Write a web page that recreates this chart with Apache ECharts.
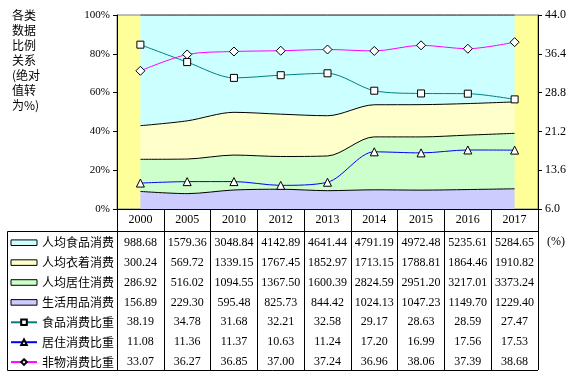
<!DOCTYPE html>
<html>
<head>
<meta charset="utf-8">
<script src="https://cdn.jsdelivr.net/npm/echarts@6/dist/echarts.min.js"></script>
<style>
  html, body { margin: 0; padding: 0; background: #fff; }
  #chart { width: 576px; height: 376px; }
</style>
</head>
<body>
<div id="chart"></div>
<script>
var years = ['2000', '2005', '2010', '2012', '2013', '2014', '2015', '2016', '2017'];
var food = [988.68, 1579.36, 3048.84, 4142.89, 4641.44, 4791.19, 4972.48, 5235.61, 5284.65];
var clothing = [300.24, 569.72, 1339.15, 1767.45, 1852.97, 1713.15, 1788.81, 1864.46, 1910.82];
var housing = [286.92, 516.02, 1094.55, 1367.50, 1600.39, 2824.59, 2951.20, 3217.01, 3373.24];
var goods = [156.89, 229.30, 595.48, 825.73, 844.42, 1024.13, 1047.23, 1149.70, 1229.40];
var foodShare = [38.19, 34.78, 31.68, 32.21, 32.58, 29.17, 28.63, 28.59, 27.47];
var housingShare = [11.08, 11.36, 11.37, 10.63, 11.24, 17.20, 16.99, 17.56, 17.53];
var nonMaterialShare = [33.07, 36.27, 36.85, 37.00, 37.24, 36.96, 38.06, 37.39, 38.68];

var serif = 'Liberation Serif';
var cjk = 'Noto Sans CJK SC';

// absolute values -> share of the total, for the 100% stacked areas
var totals = years.map(function (y, i) {
  return food[i] + clothing[i] + housing[i] + goods[i];
});
function pct(arr) {
  return arr.map(function (v, i) { return v / totals[i] * 100; });
}

// data table rows, each one a hidden category axis under the grid
var tableRows = [food, clothing, housing, goods, foodShare, housingShare, nonMaterialShare];
var tableAxes = tableRows.map(function (vals, k) {
  return {
    type: 'category',
    data: years,
    position: 'bottom',
    offset: 33.7 + 19.9 * k,
    axisLine: { show: false },
    axisTick: { show: false },
    axisLabel: {
      interval: 0, margin: 0, verticalAlign: 'middle',
      fontFamily: serif, fontSize: 12, color: '#000',
      formatter: function (v, i) { return vals[i].toFixed(2); }
    }
  };
});

var rectIcon = 'path://M0,0L28,0L28,6L0,6Z';

function areaSeries(name, data, color) {
  return {
    name: name,
    type: 'line',
    stack: 'share',
    data: pct(data),
    smooth: 0.3,
    symbol: 'none',
    color: color,
    lineStyle: { color: '#000', width: 1 },
    areaStyle: { color: color, opacity: 1 }
  };
}
function shareSeries(name, data, color, symbol, size) {
  return {
    name: name,
    type: 'line',
    yAxisIndex: 1,
    data: data,
    smooth: 0.3,
    symbol: symbol,
    symbolSize: size,
    showAllSymbol: true,
    color: color,
    lineStyle: { color: color, width: 1 },
    itemStyle: { color: '#fff', borderColor: '#000', borderWidth: 1 }
  };
}

var chart = echarts.init(document.getElementById('chart'));
var option = {
  animation: false,
  title: {
    text: '各类\n数据\n比例\n关系\n(绝对\n值转\n为%)',
    left: 12, top: 8, padding: 0,
    textStyle: { fontFamily: cjk, fontSize: 12, fontWeight: 'normal', lineHeight: 15, color: '#000' }
  },
  legend: {
    orient: 'vertical', left: 10, top: 236.7, padding: 0,
    itemWidth: 26, itemHeight: 7, itemGap: 7.9,
    selectedMode: false,
    textStyle: { fontFamily: cjk, fontSize: 12, lineHeight: 12, color: '#000' },
    data: [
      { name: '人均食品消费', icon: rectIcon, itemStyle: { borderColor: '#000', borderWidth: 1 } },
      { name: '人均衣着消费', icon: rectIcon, itemStyle: { borderColor: '#000', borderWidth: 1 } },
      { name: '人均居住消费', icon: rectIcon, itemStyle: { borderColor: '#000', borderWidth: 1 } },
      { name: '生活用品消费', icon: rectIcon, itemStyle: { borderColor: '#000', borderWidth: 1 } },
      '食品消费比重', '居住消费比重', '非物消费比重'
    ]
  },
  grid: {
    left: 117, right: 38, top: 15, bottom: 167,
    show: true, backgroundColor: '#FFFF99', borderColor: '#808080', borderWidth: 1
  },
  xAxis: [{
    type: 'category',
    data: years,
    boundaryGap: true,
    axisLine: { lineStyle: { color: '#000', width: 1 } },
    axisTick: { show: true, interval: 0, alignWithLabel: false, length: 161, lineStyle: { color: '#000' } },
    axisLabel: { interval: 0, margin: 10.5, verticalAlign: 'middle', fontFamily: serif, fontSize: 12, color: '#000' }
  }].concat(tableAxes),
  yAxis: [{
    type: 'value', min: 0, max: 100, interval: 20,
    axisLine: { show: true, lineStyle: { color: '#000' } },
    axisTick: { show: true, length: 4, lineStyle: { color: '#000' } },
    splitLine: { show: false },
    axisLabel: { formatter: '{value}%', margin: 7, fontFamily: serif, fontSize: 11, color: '#000' }
  }, {
    type: 'value', min: 6, max: 44, interval: 7.6, position: 'right',
    axisLine: { show: true, lineStyle: { color: '#000' } },
    axisTick: { show: true, length: 4, lineStyle: { color: '#000' } },
    splitLine: { show: false },
    axisLabel: {
      margin: 7, fontFamily: serif, fontSize: 12, color: '#000',
      formatter: function (v) { return v.toFixed(1); }
    }
  }],
  series: [
    areaSeries('生活用品消费', goods, '#CCCCFF'),
    areaSeries('人均居住消费', housing, '#CCFFCC'),
    areaSeries('人均衣着消费', clothing, '#FFFFCC'),
    areaSeries('人均食品消费', food, '#CCFFFF'),
    shareSeries('食品消费比重', foodShare, '#008080', 'rect', 7),
    shareSeries('居住消费比重', housingShare, '#0000FF', 'triangle', 8),
    shareSeries('非物消费比重', nonMaterialShare, '#FF00FF', 'diamond', 9)
  ],
  graphic: [
    { type: 'line', shape: { x1: 7.5, y1: 231.5, x2: 538, y2: 231.5 }, style: { stroke: '#000', lineWidth: 1 } },
    { type: 'line', shape: { x1: 7.5, y1: 370.5, x2: 538, y2: 370.5 }, style: { stroke: '#000', lineWidth: 1 } },
    { type: 'line', shape: { x1: 7.5, y1: 231.5, x2: 7.5, y2: 370.5 }, style: { stroke: '#000', lineWidth: 1 } },
    { type: 'text', left: 547, top: 236, style: { text: '(%)', fontFamily: serif, fontSize: 12, fill: '#000' } }
  ]
};
chart.setOption(option);
</script>
</body>
</html>
